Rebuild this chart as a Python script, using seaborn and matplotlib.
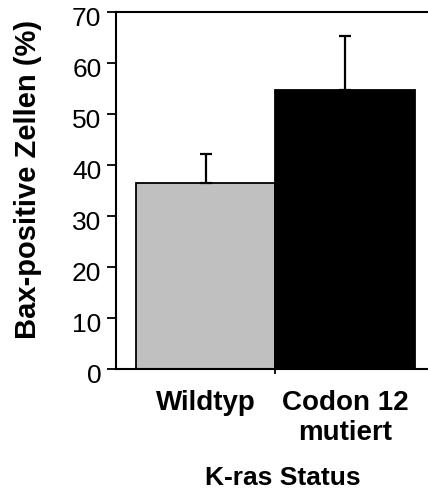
import matplotlib
matplotlib.use("Agg")
import matplotlib.pyplot as plt
import matplotlib.transforms as mtransforms
import seaborn as sns
from matplotlib.ticker import FixedLocator

sns.set_theme(style="white")
plt.rcParams['font.family'] = ['Liberation Sans', 'DejaVu Sans']
for key in ["text.color", "axes.labelcolor", "xtick.color", "ytick.color"]:
    plt.rcParams[key] = "black"

categories = ["Wildtyp", "Codon 12\nmutiert"]
values = [36.5, 54.7]
errors = [5.7, 10.5]
colors = ["#c0c0c0", "#000000"]
yticks = [0, 10, 20, 30, 40, 50, 60, 70]

fig = plt.figure(figsize=(4.28, 4.93), dpi=100)
W, H = 428, 493
left, right, top, bottom = 116, 450, 12, 369
ax = fig.add_axes([left / W, 1 - bottom / H, (right - left) / W, (bottom - top) / H])

sns.barplot(x=categories, y=values, hue=categories, palette=colors, width=1.0,
            edgecolor="black", linewidth=1.3, legend=False, ax=ax)

# upper-only error bars
ax.errorbar(range(len(values)), values, yerr=[[0] * len(errors), errors],
            fmt="none", ecolor="black", elinewidth=1.6, capsize=4, capthick=1.6, zorder=3)

ax.set_ylim(0, 70)
ax.set_xlim(-0.643, 1.751)
ax.set_yticks(yticks)
ax.tick_params(axis="y", direction="out", length=6.5, width=1.3, pad=4, labelsize=19, left=True)
ax.tick_params(axis="x", which="major", length=0, pad=15, labelsize=20)
ax.xaxis.set_minor_locator(FixedLocator([0.5]))
ax.tick_params(axis="x", which="minor", direction="out", length=3.5, width=1.3, bottom=True)
for lbl in ax.get_xticklabels():
    lbl.set_fontweight("bold")
    lbl.set_linespacing(1.2)

# y tick labels sit slightly below their ticks
shift = mtransforms.ScaledTranslation(0, -3 / 72, fig.dpi_scale_trans)
for lbl in ax.get_yticklabels():
    lbl.set_transform(lbl.get_transform() + shift)

for side in ["left", "bottom", "top"]:
    ax.spines[side].set_visible(True)
    ax.spines[side].set_color("black")
    ax.spines[side].set_linewidth(1.5)
ax.spines["right"].set_visible(False)

ax.set_ylabel("Bax-positive Zellen (%)", fontsize=21, fontweight="bold")
ax.set_xlabel("K-ras Status", fontsize=19, fontweight="bold")
ax.yaxis.set_label_coords(-0.222, 0.532)
ax.xaxis.set_label_coords(0.5, -0.272)

fig.savefig("out.png", dpi=100)
